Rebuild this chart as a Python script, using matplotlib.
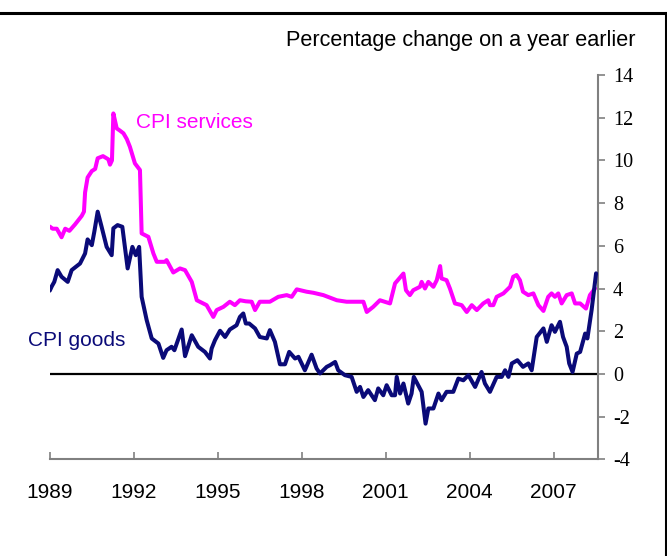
import matplotlib
matplotlib.use("Agg")
import matplotlib.pyplot as plt
from matplotlib.lines import Line2D

# ---- data ----
services_years = [1989.00, 1989.10, 1989.25, 1989.42, 1989.55, 1989.70, 1989.90, 1990.14, 1990.22,
                  1990.26, 1990.35, 1990.50, 1990.62, 1990.71, 1990.90, 1991.09, 1991.15, 1991.22,
                  1991.27, 1991.39, 1991.50, 1991.63, 1991.75, 1991.86, 1992.04, 1992.22, 1992.28,
                  1992.52, 1992.70, 1992.82, 1993.11, 1993.17, 1993.41, 1993.65, 1993.83, 1994.07,
                  1994.25, 1994.60, 1994.84, 1994.96, 1995.20, 1995.43, 1995.61, 1995.79, 1996.00,
                  1996.21, 1996.33, 1996.50, 1996.86, 1997.16, 1997.46, 1997.64, 1997.82, 1998.17,
                  1998.41, 1998.77, 1999.25, 1999.60, 2000.20, 2000.32, 2000.55, 2000.79, 2001.15,
                  2001.33, 2001.63, 2001.72, 2001.86, 2001.98, 2002.22, 2002.28, 2002.40, 2002.52,
                  2002.70, 2002.82, 2002.94, 2002.99, 2003.17, 2003.29, 2003.47, 2003.71, 2003.89,
                  2004.07, 2004.25, 2004.48, 2004.66, 2004.72, 2004.84, 2004.96, 2005.20, 2005.44,
                  2005.55, 2005.67, 2005.79, 2005.90, 2006.09, 2006.27, 2006.45, 2006.63, 2006.80,
                  2006.92, 2007.04, 2007.16, 2007.28, 2007.46, 2007.64, 2007.76, 2007.94, 2008.15,
                  2008.29, 2008.47]
services_values = [6.9, 6.8, 6.8, 6.4, 6.8, 6.7, 7.0, 7.4, 7.6,
                   8.5, 9.2, 9.5, 9.6, 10.1, 10.2, 10.05, 9.8, 10.0,
                   12.2, 11.5, 11.4, 11.27, 11.0, 10.64, 9.86, 9.55, 6.58,
                   6.42, 5.64, 5.25, 5.25, 5.33, 4.75, 4.94, 4.86, 4.31,
                   3.45, 3.22, 2.67, 2.99, 3.14, 3.38, 3.22, 3.45, 3.4,
                   3.38, 2.99, 3.38, 3.38, 3.61, 3.69, 3.61, 3.96, 3.85,
                   3.8, 3.69, 3.45, 3.38, 3.38, 2.9, 3.14, 3.45, 3.3,
                   4.24, 4.7, 3.92, 3.69, 3.92, 4.08, 4.31, 4.0, 4.31,
                   4.08, 4.39, 5.05, 4.47, 4.39, 4.0, 3.3, 3.22, 2.9,
                   3.22, 2.99, 3.3, 3.45, 3.22, 3.22, 3.61, 3.77, 4.08,
                   4.55, 4.63, 4.39, 3.85, 3.69, 3.77, 3.22, 2.95, 3.61,
                   3.77, 3.61, 3.77, 3.3, 3.69, 3.77, 3.3, 3.3, 3.06,
                   3.69, 4.0]

goods_years = [1989.00, 1989.07, 1989.16, 1989.28, 1989.42, 1989.64, 1989.78, 1990.08, 1990.26,
               1990.35, 1990.50, 1990.59, 1990.71, 1990.85, 1991.03, 1991.21, 1991.27, 1991.42,
               1991.59, 1991.78, 1991.95, 1992.07, 1992.19, 1992.28, 1992.46, 1992.64, 1992.88,
               1993.05, 1993.17, 1993.35, 1993.45, 1993.71, 1993.83, 1994.07, 1994.30, 1994.54,
               1994.72, 1994.78, 1994.90, 1995.08, 1995.26, 1995.43, 1995.67, 1995.79, 1995.91,
               1996.00, 1996.12, 1996.33, 1996.50, 1996.75, 1996.86, 1997.04, 1997.22, 1997.40,
               1997.55, 1997.76, 1997.88, 1998.11, 1998.35, 1998.53, 1998.65, 1998.89, 1999.01,
               1999.19, 1999.30, 1999.54, 1999.78, 1999.96, 2000.08, 2000.20, 2000.37, 2000.61,
               2000.73, 2000.91, 2001.03, 2001.21, 2001.33, 2001.39, 2001.51, 2001.63, 2001.80,
               2001.92, 2002.00, 2002.28, 2002.42, 2002.52, 2002.70, 2002.88, 2002.99, 2003.17,
               2003.41, 2003.59, 2003.77, 2003.95, 2004.19, 2004.42, 2004.54, 2004.72, 2004.96,
               2005.14, 2005.26, 2005.38, 2005.50, 2005.70, 2005.90, 2006.09, 2006.21, 2006.39,
               2006.63, 2006.75, 2006.92, 2007.04, 2007.22, 2007.33, 2007.46, 2007.55, 2007.67,
               2007.82, 2007.94, 2008.12, 2008.20, 2008.35, 2008.51]
goods_values = [3.9, 4.1, 4.31, 4.86, 4.55, 4.31, 4.86, 5.17, 5.64,
                6.3, 6.03, 6.66, 7.6, 6.89, 5.95, 5.56, 6.82, 6.97,
                6.89, 4.94, 5.95, 5.56, 5.95, 3.61, 2.52, 1.66, 1.42,
                0.75, 1.11, 1.27, 1.11, 2.08, 0.83, 1.81, 1.27, 1.03,
                0.72, 1.19, 1.58, 2.02, 1.73, 2.08, 2.28, 2.67, 2.83,
                2.36, 2.36, 2.13, 1.73, 1.66, 2.05, 1.5, 0.45, 0.45,
                1.03, 0.72, 0.8, 0.17, 0.9, 0.25, 0.02, 0.33, 0.41,
                0.56, 0.17, -0.06, -0.14, -0.84, -0.61, -1.08, -0.76, -1.23,
                -0.68, -1.0, -0.53, -1.0, -1.0, -0.14, -0.92, -0.45, -1.39,
                -0.92, -0.14, -0.84, -2.33, -1.62, -1.62, -0.92, -1.23, -0.84,
                -0.84, -0.22, -0.3, -0.06, -0.61, 0.09, -0.45, -0.84, -0.14,
                -0.14, 0.17, -0.14, 0.49, 0.64, 0.33, 0.49, 0.17, 1.73,
                2.13, 1.5, 2.28, 1.97, 2.44, 1.73, 1.27, 0.49, 0.09,
                0.95, 1.03, 1.89, 1.66, 2.99, 4.71]

year_ticks = [1989, 1992, 1995, 1998, 2001, 2004, 2007]
value_ticks = [-4, -2, 0, 2, 4, 6, 8, 10, 12, 14]

services_label = "CPI services"
goods_label = "CPI goods"
unit_label = "Percentage change on a year earlier"

# ---- figure ----
W, H = 667, 556
fig = plt.figure(figsize=(W / 100, H / 100), dpi=100)
fig.patch.set_facecolor("white")

ax = fig.add_axes([49.8 / W, 1 - 459.3 / H, (597.7 - 49.8) / W, (459.3 - 75.0) / H])
ax.set_xlim(1989, 1989 + (597.7 - 49.8) / 28.0)
ax.set_ylim(-4, 14)

ax.axhline(0, color="black", lw=1.6, zorder=2)
ax.plot(services_years, services_values, color="#FF00FF", lw=2.9,
        solid_joinstyle="round", solid_capstyle="round", zorder=3)
ax.plot(goods_years, goods_values, color="#0A0A78", lw=2.9,
        solid_joinstyle="round", solid_capstyle="round", zorder=4)

grey = "#808080"
for s in ["top", "left"]:
    ax.spines[s].set_visible(False)
ax.spines["right"].set_color(grey)
ax.spines["bottom"].set_color(grey)
ax.spines["right"].set_linewidth(1.5)
ax.spines["bottom"].set_linewidth(1.5)

ax.yaxis.tick_right()
ax.set_yticks(value_ticks)
ax.set_yticklabels([str(v) for v in value_ticks], fontfamily="Liberation Serif", fontsize=14.5)
ax.tick_params(axis="y", direction="out", length=5, width=1.2, color=grey, pad=6)

ax.set_xticks(year_ticks)
ax.set_xticklabels([str(y) for y in year_ticks], fontfamily="Liberation Sans", fontsize=15)
ax.tick_params(axis="x", direction="in", length=5, width=1.2, color=grey, pad=17)

ax.text(136 / W, 1 - 123 / H, services_label, transform=fig.transFigure,
        color="#FF00FF", fontsize=15, fontfamily="Liberation Sans", va="center", ha="left")
ax.text(28 / W, 1 - 341 / H, goods_label, transform=fig.transFigure,
        color="#0A0A78", fontsize=15, fontfamily="Liberation Sans", va="center", ha="left")
fig.text(636 / W, 1 - 46 / H, unit_label, color="black", fontsize=15.6,
         fontfamily="Liberation Sans", ha="right", va="baseline")

# frame lines (top and right)
fig.add_artist(Line2D([0, 1], [1 - 12.5 / H, 1 - 12.5 / H], transform=fig.transFigure,
                      color="black", lw=2.2))
fig.add_artist(Line2D([1 - 1.5 / W, 1 - 1.5 / W], [0, 1 - 12.5 / H], transform=fig.transFigure,
                      color="black", lw=2.2))

fig.savefig("out.png", dpi=100, facecolor="white")
